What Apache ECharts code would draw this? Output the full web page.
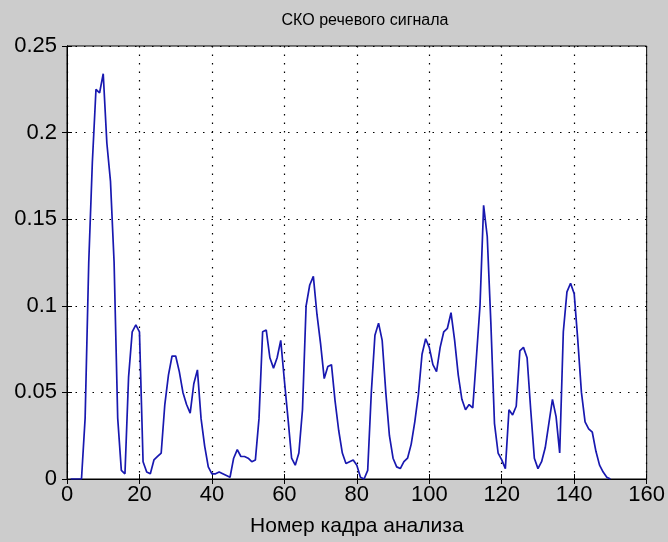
<!DOCTYPE html>
<html><head><meta charset="utf-8">
<script src="https://cdn.jsdelivr.net/npm/echarts@6/dist/echarts.min.js"></script>
<style>html,body{margin:0;padding:0;background:#cccccc;}#c{width:668px;height:542px;}</style>
</head><body><div id="c"></div>
<script>
const titleText = 'СКО речевого сигнала';
const xLabel = 'Номер кадра анализа';
const xTicks = [0, 20, 40, 60, 80, 100, 120, 140, 160];
const yTicks = [0, 0.05, 0.1, 0.15, 0.2, 0.25];
const frames = [];
for (let i = 1; i <= 150; i++) frames.push(i);
const rms = [
  0, 0, 0, 0, 0.035, 0.125, 0.183, 0.225, 0.223, 0.234,
  0.194, 0.172, 0.125, 0.035, 0.005, 0.003, 0.059, 0.085, 0.089, 0.085,
  0.01, 0.004, 0.003, 0.011, 0.013, 0.015, 0.043, 0.06, 0.071, 0.071,
  0.062, 0.05, 0.043, 0.038, 0.055, 0.063, 0.035, 0.019, 0.007, 0.003,
  0.003, 0.004, 0.003, 0.002, 0.001, 0.012, 0.017, 0.013, 0.013, 0.012,
  0.01, 0.011, 0.035, 0.085, 0.086, 0.07, 0.064, 0.07, 0.08, 0.057,
  0.035, 0.012, 0.008, 0.015, 0.04, 0.1, 0.112, 0.117, 0.095, 0.078,
  0.058, 0.065, 0.066, 0.045, 0.028, 0.015, 0.009, 0.01, 0.011, 0.008,
  0.001, 0.0, 0.005, 0.05, 0.083, 0.09, 0.08, 0.05, 0.025, 0.012,
  0.007, 0.006, 0.01, 0.012, 0.02, 0.033, 0.049, 0.072, 0.081, 0.076,
  0.066, 0.062, 0.076, 0.085, 0.087, 0.096, 0.08, 0.06, 0.046, 0.04,
  0.043, 0.041, 0.07, 0.1, 0.158, 0.14, 0.09, 0.032, 0.015, 0.011,
  0.006, 0.04, 0.037, 0.042, 0.074, 0.076, 0.07, 0.04, 0.012, 0.006,
  0.01, 0.018, 0.032, 0.046, 0.036, 0.015, 0.085, 0.108, 0.113, 0.107,
  0.08, 0.05, 0.033, 0.029, 0.027, 0.016, 0.008, 0.004, 0.001, 0
];
const FONT = '"Liberation Sans Narrow", "Liberation Sans", Arial, sans-serif';
const chart = echarts.init(document.getElementById('c'), null, {renderer: 'canvas'});
const grid = {left: 67, right: 17, top: 46, bottom: 59, show: true, backgroundColor: '#ffffff', borderColor: '#000', borderWidth: 1};
const xMin = xTicks[0], xMax = xTicks[xTicks.length - 1];
const yMin = yTicks[0], yMax = yTicks[yTicks.length - 1];
chart.setOption({
  backgroundColor: '#cccccc',
  animation: false,
  title: {text: titleText, left: 360, top: 8, textAlign: 'center',
    textStyle: {fontFamily: FONT, fontSize: 16, fontWeight: 'normal', color: '#000'}},
  grid: grid,
  xAxis: [{
    type: 'value', min: xMin, max: xMax, interval: 20, position: 'bottom',
    name: xLabel, nameLocation: 'middle', nameGap: 37,
    nameTextStyle: {fontFamily: FONT, fontSize: 21, color: '#000'},
    axisLine: {show: true, lineStyle: {color: '#000', width: 1}},
    axisTick: {show: true, inside: true, length: 5, lineStyle: {color: '#000'}},
    axisLabel: {fontFamily: FONT, fontSize: 22, color: '#000', margin: 5},
    splitLine: {show: true, lineStyle: {color: '#000', type: [1.5, 7], width: 1.2}}
  }, {
    type: 'value', min: xMin, max: xMax, interval: 20, position: 'top',
    axisLine: {show: true, lineStyle: {color: '#000'}},
    axisTick: {show: true, inside: true, length: 5, lineStyle: {color: '#000'}},
    axisLabel: {show: false}, splitLine: {show: false}
  }],
  yAxis: [{
    type: 'value', min: yMin, max: yMax, interval: 0.05, position: 'left',
    axisLine: {show: true, lineStyle: {color: '#000', width: 1}},
    axisTick: {show: true, inside: true, length: 5, lineStyle: {color: '#000'}},
    axisLabel: {fontFamily: FONT, fontSize: 22, color: '#000', margin: 10},
    splitLine: {show: true, lineStyle: {color: '#000', type: [1.5, 7], width: 1.2}}
  }, {
    type: 'value', min: yMin, max: yMax, interval: 0.05, position: 'right',
    axisLine: {show: true, lineStyle: {color: '#000'}},
    axisTick: {show: true, inside: true, length: 5, lineStyle: {color: '#000'}},
    axisLabel: {show: false}, splitLine: {show: false}
  }],
  series: [{
    type: 'line', data: frames.map((f, i) => [f, rms[i]]),
    showSymbol: false, symbol: 'none',
    lineStyle: {color: '#1818b0', width: 1.7}, z: 5
  }]
});
</script></body></html>
